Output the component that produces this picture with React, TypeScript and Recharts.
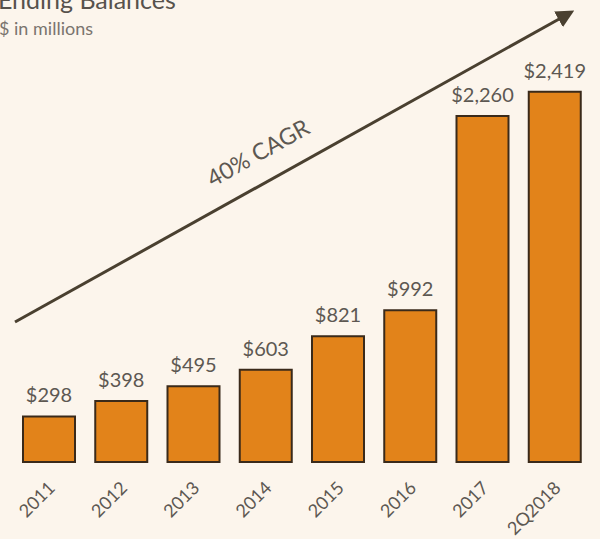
import { Bar, BarChart, Customized, LabelList, XAxis, YAxis } from 'recharts'

const years = ['2011', '2012', '2013', '2014', '2015', '2016', '2017', '2Q2018']
const balances = [298, 398, 495, 603, 821, 992, 2260, 2419]
const valueLabels = ['$298', '$398', '$495', '$603', '$821', '$992', '$2,260', '$2,419']

const data = years.map((year, i) => ({ year, value: balances[i], label: valueLabels[i] }))

const FONT = 'Lato, "Open Sans", sans-serif'
const TEXT = '#5d5852'

function YearTick({ x, y, payload }: any) {
  const tx = x + 7
  const ty = y + 19
  return (
    <text
      x={tx}
      y={ty}
      transform={`rotate(-45 ${tx} ${ty})`}
      textAnchor="end"
      fill={TEXT}
      fontSize={18}
      fontFamily={FONT}
    >
      {payload.value}
    </text>
  )
}

// the growth arrow with its label, drawn over the bars
function CagrArrow() {
  const x1 = 15
  const y1 = 322
  const x2 = 577
  const y2 = 9
  const angle = (Math.atan2(y2 - y1, x2 - x1) * 180) / Math.PI
  return (
    <g>
      <defs>
        <marker id="head" markerWidth="6" markerHeight="6" refX="4" refY="3" orient="auto" markerUnits="strokeWidth">
          <path d="M0,0 L6,3 L0,6 Z" fill="#4a4030" />
        </marker>
      </defs>
      <line x1={x1} y1={y1} x2={x2 - 8} y2={y2 + 4.5} stroke="#4a4030" strokeWidth={3} markerEnd="url(#head)" />
      <text
        x={262}
        y={160}
        transform={`rotate(${angle} 262 160)`}
        textAnchor="middle"
        fill={TEXT}
        fontSize={23}
        fontFamily={FONT}
      >
        40% CAGR
      </text>
    </g>
  )
}

export default function App() {
  return (
    <div style={{ position: 'fixed', inset: 0, width: 600, height: 539, background: '#fcf5ec', overflow: 'hidden' }}>
      <svg width={600} height={60} style={{ position: 'absolute', left: 0, top: 0 }}>
        <text x={-2} y={9} fontSize={25} fontFamily={FONT} fill="#57524c">
          Ending Balances
        </text>
        <text x={-1} y={35} fontSize={18} fontFamily={FONT} fill="#7a746e">
          $ in millions
        </text>
      </svg>
      <BarChart
        width={600}
        height={539}
        data={data}
        margin={{ top: 64, right: 9, left: 13, bottom: 7 }}
        barSize={52}
        style={{ position: 'absolute', left: 0, top: 0 }}
      >
        <XAxis dataKey="year" axisLine={false} tickLine={false} height={70} interval={0} tick={<YearTick />} />
        <YAxis hide domain={[0, 2600]} />
        <Bar dataKey="value" fill="#e2831a" stroke="#3a2a1a" strokeWidth={2} isAnimationActive={false}>
          <LabelList dataKey="label" position="top" offset={14} fill={TEXT} fontSize={20} fontFamily={FONT} />
        </Bar>
        <Customized component={<CagrArrow />} />
      </BarChart>
    </div>
  )
}
